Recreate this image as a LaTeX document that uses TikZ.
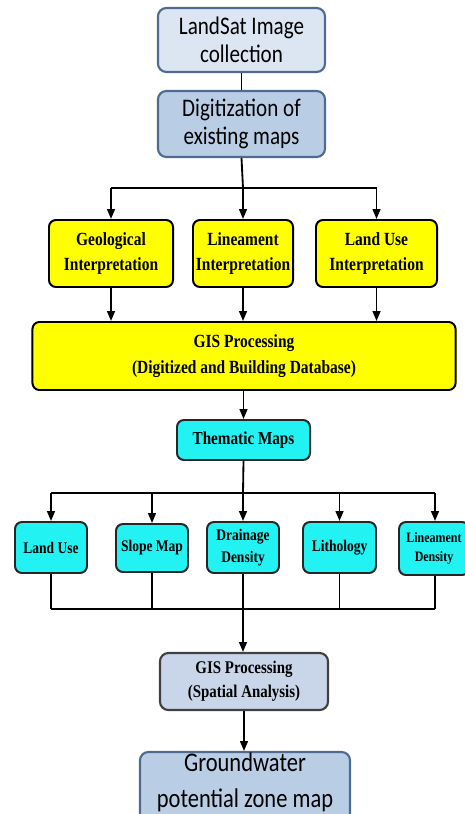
\documentclass[tikz,border=0pt]{standalone}
\usepackage{graphicx}
\usepackage{fontspec}
\setmainfont{Liberation Serif}
\newfontfamily\calfont{Carlito}
\usetikzlibrary{arrows.meta}
\newcommand{\tall}[1]{\scalebox{1}[1.2]{#1}}
\definecolor{paleblue}{HTML}{DCE6F2}
\definecolor{midblue}{HTML}{B9CDE5}
\definecolor{greyblue}{HTML}{C9D6EA}
\definecolor{edgeblue}{HTML}{4F6A90}
\definecolor{boxyellow}{HTML}{FFFF00}
\definecolor{boxcyan}{HTML}{22F2F2}
\tikzset{
	lightbox/.style={draw=edgeblue, line width=1.5pt, rounded corners=6pt, align=center, inner sep=0pt, font=\calfont\fontsize{15}{20}\selectfont},
	ybox/.style={draw=black, fill=boxyellow, line width=1.4pt, rounded corners=5pt, align=center, inner sep=0pt, font=\bfseries\fontsize{11}{18}\selectfont},
	cbox/.style={draw=black!85, fill=boxcyan, line width=1.4pt, rounded corners=5pt, align=center, inner sep=0pt, font=\bfseries\fontsize{9.6}{15.5}\selectfont},
	link/.style={line width=1.3pt},
	arr/.style={line width=1.3pt, -{Triangle[width=5.5pt,length=7pt]}}
}
\begin{document}
\begin{tikzpicture}[x=0.025cm, y=-0.025cm]
\useasboundingbox (0,0) rectangle (465,814);
% Kaesten oben
	\node [lightbox, fill=paleblue, minimum width=4.175cm, minimum height=1.6cm] (landsat) at (241.5,40) {\tall{LandSat Image}\\\tall{collection}};
	\node [lightbox, fill=midblue, minimum width=4.175cm, minimum height=1.65cm] (digit) at (241.5,124) {\tall{Digitization of}\\\tall{existing maps}};
% Interpretation
	\node [ybox, minimum width=3.1cm, minimum height=1.675cm] (geo) at (111,253.5) {\tall{Geological}\\\tall{Interpretation}};
	\node [ybox, minimum width=2.5cm, minimum height=1.675cm] (lin) at (243,253.5) {\tall{Lineament}\\\tall{Interpretation}};
	\node [ybox, minimum width=3.025cm, minimum height=1.675cm] (lu) at (376.5,253.5) {\tall{Land Use}\\\tall{Interpretation}};
	\node [ybox, minimum width=10.575cm, minimum height=1.7cm] (gisdb) at (244,356) {\tall{GIS Processing}\\\tall{(Digitized and Building Database)}};
% Thematische Karten
	\node [cbox, minimum width=3.325cm, minimum height=1cm, font=\bfseries\fontsize{10.8}{13}\selectfont] (them) at (243.5,440) {\tall{Thematic Maps}};
	\node [cbox, minimum width=1.8cm, minimum height=1.275cm] (landuse) at (51,547.5) {\tall{Land Use}};
	\node [cbox, minimum width=1.8cm, minimum height=1.2cm] (slope) at (152,548) {\tall{Slope Map}};
	\node [cbox, minimum width=1.8cm, minimum height=1.275cm] (drain) at (243,547.5) {\tall{Drainage}\\\tall{Density}};
	\node [cbox, minimum width=1.825cm, minimum height=1.275cm] (litho) at (339.5,547.5) {\tall{Lithology}};
	\node [cbox, minimum width=1.75cm, minimum height=1.325cm, font=\bfseries\fontsize{8.5}{14}\selectfont] (lden) at (434,548.5) {\tall{Lineament}\\\tall{Density}};
% Ergebnis
	\node [lightbox, draw=black!75, fill=greyblue, minimum width=4.2cm, minimum height=1.425cm, font=\bfseries\fontsize{10.6}{17}\selectfont] (gissp) at (244,681.5) {\tall{GIS Processing}\\\tall{(Spatial Analysis)}};
	\node [lightbox, fill=midblue, minimum width=5.25cm, minimum height=2.1cm] (ground) at (245,794) {};
	\node [font=\calfont\fontsize{16}{25}\selectfont, align=center, inner sep=0pt, anchor=base] (groundtxt) at (245,807) {\tall{Groundwater}\\\tall{potential zone map}};
% Linien
	\coordinate (j1) at (243,188);
	\coordinate (j2) at (243,493);
	\coordinate (j3) at (243,609);
	\draw [link] (landsat) -- (digit);
	\draw [link] (digit.south) -- (j1);
	\draw [link] (geo.north |- j1) -- (lu.north |- j1);
	\draw [arr] (geo.north |- j1) -- (geo.north);
	\draw [arr] (j1) -- (lin.north);
	\draw [arr] (lu.north |- j1) -- (lu.north);
	\draw [arr] (geo.south) -- (geo.south |- gisdb.north);
	\draw [arr] (lin.south) -- (lin.south |- gisdb.north);
	\draw [arr] (lu.south) -- (lu.south |- gisdb.north);
	\draw [arr] (them.north |- gisdb.south) -- (them.north);
	\draw [link] (them.south) -- (j2);
	\draw [link] (landuse.north |- j2) -- (435,493);
	\draw [arr] (landuse.north |- j2) -- (landuse.north);
	\draw [arr] (slope.north |- j2) -- (slope.north);
	\draw [arr] (j2) -- (drain.north);
	\draw [arr] (litho.north |- j2) -- (litho.north);
	\draw [arr] (435,493) -- (435,0 |- lden.north);
	\draw [link] (landuse.south) -- (landuse.south |- j3);
	\draw [link] (slope.south) -- (slope.south |- j3);
	\draw [link] (drain.south) -- (j3);
	\draw [link] (litho.south) -- (litho.south |- j3);
	\draw [link] (435,0 |- lden.south) -- (435,609);
	\draw [link] (landuse.south |- j3) -- (435,609);
	\draw [arr] (j3) -- (j3 |- gissp.north);
	\draw [arr] (gissp.south) -- (gissp.south |- ground.north);
\end{tikzpicture}
\end{document}
